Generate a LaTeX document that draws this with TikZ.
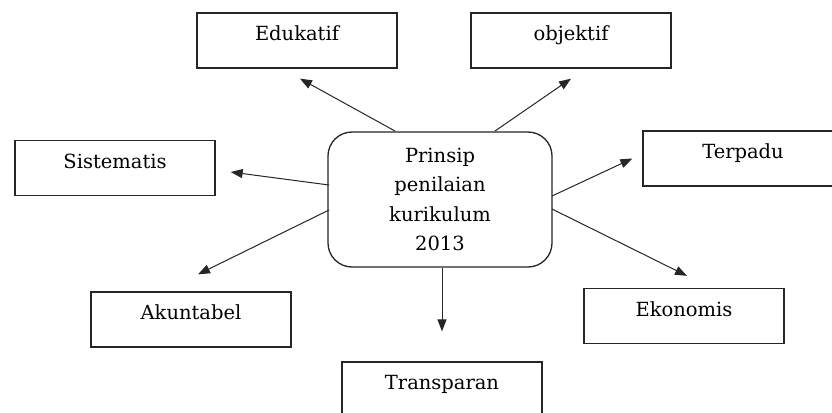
\documentclass[tikz,border=0pt]{standalone}
\usepackage{fontspec}
\setmainfont{DejaVu Serif}
\usetikzlibrary{arrows.meta}
\begin{document}
\begin{tikzpicture}[x=1pt,y=-1pt,
  every node/.style={font=\fontsize{19.5}{29.3}\selectfont, text=black},
  box/.style={draw=black!85, line width=1.3pt, minimum width=200pt, minimum height=55pt,
    text height=13pt, text depth=13pt, inner sep=0pt},
  hub/.style={draw=black!85, line width=1.3pt, rounded corners=24pt, minimum width=224pt,
    minimum height=135pt, align=center, inner sep=0pt},
  arr/.style={draw=black!85, line width=1pt, -{Triangle[length=12pt,width=9pt]}}]
\useasboundingbox (0,0) rectangle (832,412);
\clip (0,0) rectangle (832,412);
\fill[white] (0,0) rectangle (832,412);
\node[hub] (c) at (440,199.5) {Prinsip\\penilaian\\kurikulum\\2013};
\node[box] (edu) at (297,40.5) {Edukatif};
\node[box] (obj) at (571,40.5) {objektif};
\node[box] (sis) at (115,168) {Sistematis};
\node[box] (ter) at (743,158.5) {Terpadu};
\node[box] (aku) at (191,319.5) {Akuntabel};
\node[box] (eko) at (684,316) {Ekonomis};
\node[box] (tra) at (442,389.5) {Transparan};
\coordinate (s1) at (395,131);
\coordinate (s2) at (495,131);
\coordinate (s3) at (329,185);
\coordinate (s4) at (552,196);
\coordinate (s5) at (329,210);
\coordinate (s6) at (552,209);
\coordinate (s7) at (442,268);
\draw[arr] (s1) -- ([xshift=3pt,yshift=-10pt]edu.south);
\draw[arr] (s2) -- ([yshift=-10pt]obj.south);
\draw[arr] (s3) -- ([xshift=15pt,yshift=-4pt]sis.east);
\draw[arr] (s4) -- ([xshift=-10pt]ter.west);
\draw[arr] (s5) -- ([xshift=7pt,yshift=17pt]aku.north);
\draw[arr] (s6) -- ([xshift=3pt,yshift=12pt]eko.north);
\draw[arr] (s7) -- ([yshift=30pt]tra.north);
\end{tikzpicture}
\end{document}
